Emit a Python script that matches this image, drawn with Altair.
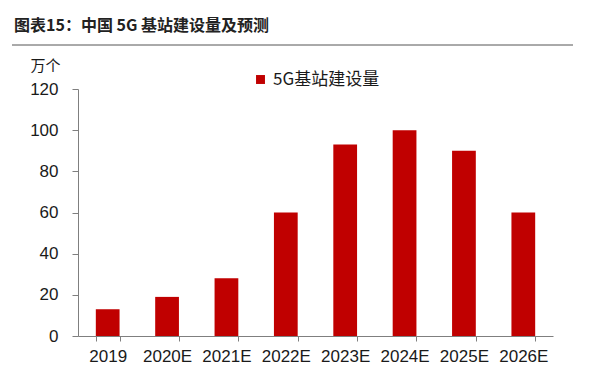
import altair as alt
import pandas as pd

years = ["2019", "2020E", "2021E", "2022E", "2023E", "2024E", "2025E", "2026E"]
values = [13, 19, 28, 60, 93, 100, 90, 60]
series = "5G基站建设量"
title_text = "图表15：中国 5G 基站建设量及预测"
unit_text = "万个"

df = pd.DataFrame({"year": years, "value": values, "series": [series] * len(years)})

FONT = "Liberation Sans"
CJK = "Noto Sans CJK SC"

bars = alt.Chart(df).mark_bar(color="#C00000").encode(
    x=alt.X("year:N", sort=years, title=None,
            scale=alt.Scale(paddingInner=0.6, paddingOuter=0.3),
            axis=alt.Axis(labelAngle=0, tickBand="extent", domainColor="#7f7f7f",
                          tickColor="#7f7f7f", tickSize=5, labelPadding=7,
                          labelFontSize=17, labelColor="#1a1a1a", labelFont=FONT)),
    y=alt.Y("value:Q", title=unit_text,
            scale=alt.Scale(domain=[0, 120]),
            axis=alt.Axis(values=[0, 20, 40, 60, 80, 100, 120], grid=False,
                          domainColor="#7f7f7f", tickColor="#7f7f7f", tickSize=6,
                          labelPadding=14, labelFontSize=17, labelColor="#1a1a1a",
                          labelFont=FONT, titleAngle=0, titleX=-33, titleY=-24,
                          titleAlign="center", titleBaseline="middle",
                          titleFontSize=15, titleFontWeight="normal",
                          titleFont=CJK, titleColor="#1a1a1a")),
    fill=alt.Fill("series:N", scale=alt.Scale(domain=[series], range=["#C00000"]),
                  legend=alt.Legend(title=None, orient="none", legendX=174, legendY=-18,
                                    symbolType="square", symbolSize=80,
                                    labelFontSize=17, labelFont=CJK, labelColor="#1a1a1a",
                                    padding=0, symbolStrokeWidth=0)),
)

title = alt.Chart(pd.DataFrame({"t": [title_text]})).mark_text(
    align="left", baseline="middle", fontSize=16, fontWeight="bold", font=CJK, color="#222222"
).encode(x=alt.value(-64), y=alt.value(-63), text="t:N")

rule = alt.Chart(pd.DataFrame({"a": [0]})).mark_rule(color="#555555", strokeWidth=1).encode(
    x=alt.value(-66), x2=alt.value(497), y=alt.value(-44)
)

chart = alt.layer(bars, title, rule).properties(
    width=475, height=247,
    autosize=alt.AutoSizeParams(type="none"),
    padding={"left": 70, "top": 81, "right": 20, "bottom": 37},
    background="white",
).configure_view(stroke=None)

chart.save("out.html", embed_options={"renderer": "svg", "actions": False})
